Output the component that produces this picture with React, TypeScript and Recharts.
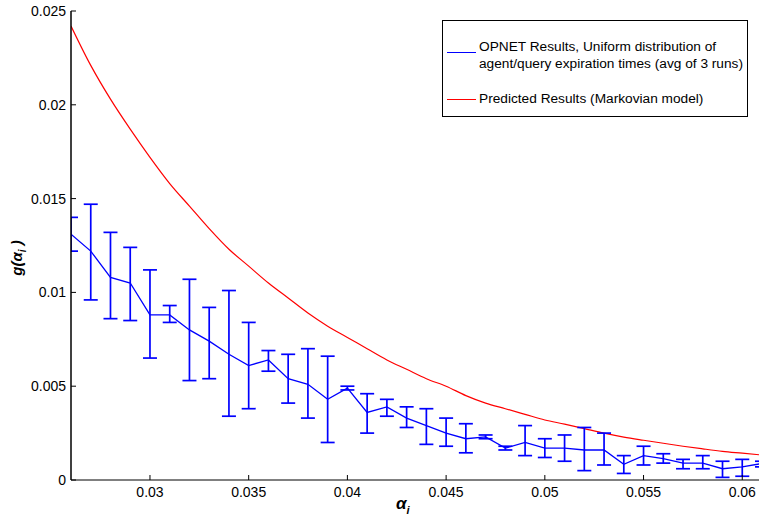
import React from "react";
import { LineChart, Line, XAxis, YAxis, ErrorBar } from "recharts";

const alpha = [
  0.026, 0.027, 0.028, 0.029, 0.03, 0.031, 0.032, 0.033, 0.034, 0.035, 0.036, 0.037,
  0.038, 0.039, 0.04, 0.041, 0.042, 0.043, 0.044, 0.045, 0.046, 0.047, 0.048, 0.049,
  0.05, 0.051, 0.052, 0.053, 0.054, 0.055, 0.056, 0.057, 0.058, 0.059, 0.06, 0.061,
];

const opnetMean = [
  0.0131, 0.0122, 0.0108, 0.0105, 0.0088, 0.0088, 0.008, 0.0074, 0.0067, 0.0061, 0.0064, 0.0054,
  0.0051, 0.0043, 0.0049, 0.0036, 0.0039, 0.0033, 0.0029, 0.0025, 0.0022, 0.0023, 0.0017, 0.002,
  0.0017, 0.0017, 0.0016, 0.0016, 0.00084, 0.0013, 0.00114, 0.0009, 0.0009, 0.0006, 0.0007, 0.00088,
];

const opnetLow = [
  0.0122, 0.0096, 0.0086, 0.0085, 0.0065, 0.0084, 0.0053, 0.0054, 0.0034, 0.0038, 0.0058, 0.0041,
  0.0033, 0.002, 0.0048, 0.0025, 0.0034, 0.0028, 0.0019, 0.0018, 0.00145, 0.0022, 0.0016, 0.0013,
  0.0012, 0.001, 0.0005, 0.0008, 0.00035, 0.0008, 0.0009, 0.0006, 0.0006, 0.00014, 0.0002, 0.0007,
];

const opnetHigh = [
  0.014, 0.0147, 0.0132, 0.0124, 0.0112, 0.0093, 0.0107, 0.0092, 0.0101, 0.0084, 0.0069, 0.0067,
  0.007, 0.0066, 0.005, 0.0046, 0.0043, 0.0039, 0.0038, 0.0033, 0.003, 0.0024, 0.0018, 0.0029,
  0.0022, 0.0024, 0.0028, 0.0025, 0.0013, 0.0018, 0.0014, 0.0011, 0.0013, 0.001, 0.0011, 0.001,
];

const predicted = [
  0.0242, 0.0221, 0.0203, 0.0187, 0.0172, 0.0158, 0.0146, 0.0134, 0.0123, 0.0114, 0.0105, 0.0097,
  0.0089, 0.0082, 0.0076, 0.007, 0.0064, 0.0059, 0.0054, 0.005, 0.0045, 0.0041, 0.0038, 0.0035,
  0.0032, 0.00298, 0.00274, 0.0025, 0.00229, 0.00212, 0.00196, 0.0018, 0.00166, 0.00153, 0.00143, 0.00133,
];

const xTicks = [0.03, 0.035, 0.04, 0.045, 0.05, 0.055, 0.06];
const xTickLabels = ["0.03", "0.035", "0.04", "0.045", "0.05", "0.055", "0.06"];
const yTicks = [0, 0.005, 0.01, 0.015, 0.02, 0.025];
const yTickLabels = ["0", "0.005", "0.01", "0.015", "0.02", "0.025"];

const data = alpha.map((a, i) => ({
  alpha: a,
  opnet: opnetMean[i],
  err: [opnetMean[i] - opnetLow[i], opnetHigh[i] - opnetMean[i]],
  predicted: predicted[i],
}));

const font = "'Liberation Sans', Arial, Helvetica, sans-serif";
const TICK_LEN = 5;
const GAP = 7;

// MATLAB style: tick marks point into the plot box
function bottomTick(props: any) {
  const { x, y, payload } = props;
  const axisY = y - GAP;
  const i = xTicks.indexOf(payload.value);
  return (
    <g>
      <line x1={x} x2={x} y1={axisY} y2={axisY - TICK_LEN} stroke="#000" />
      <text x={x} y={y} dy="0.71em" textAnchor="middle" fontSize={14} fontFamily={font} fill="#000">
        {i >= 0 ? xTickLabels[i] : payload.value}
      </text>
    </g>
  );
}

function topTick(props: any) {
  const { x, y } = props;
  return <line x1={x} x2={x} y1={y} y2={y + TICK_LEN} stroke="#000" />;
}

function leftTick(props: any) {
  const { x, y, payload } = props;
  const axisX = x + 5;
  const i = yTicks.indexOf(payload.value);
  return (
    <g>
      <line x1={axisX} x2={axisX + TICK_LEN} y1={y} y2={y} stroke="#000" />
      <text x={x} y={y} dy="0.355em" textAnchor="end" fontSize={14} fontFamily={font} fill="#000">
        {i >= 0 ? yTickLabels[i] : payload.value}
      </text>
    </g>
  );
}

function rightTick(props: any) {
  const { x, y } = props;
  return <line x1={x} x2={x - TICK_LEN} y1={y} y2={y} stroke="#000" />;
}

function LegendBox() {
  return (
    <div
      style={{
        position: "absolute",
        left: 442,
        top: 20,
        width: 306,
        height: 97,
        boxSizing: "border-box",
        border: "1px solid #000",
        background: "#fff",
        fontFamily: font,
        fontSize: 13.7,
        color: "#000",
        lineHeight: "17.3px",
      }}
    >
      <div style={{ position: "absolute", left: 4, top: 31, width: 29, height: 1.2, background: "#0000ff" }} />
      <div style={{ position: "absolute", left: 36, top: 17, whiteSpace: "nowrap" }}>
        OPNET Results, Uniform distribution of
        <br />
        agent/query expiration times (avg of 3 runs)
      </div>
      <div style={{ position: "absolute", left: 4, top: 78, width: 29, height: 1.2, background: "#ff0000" }} />
      <div style={{ position: "absolute", left: 36, top: 69, whiteSpace: "nowrap" }}>
        Predicted Results (Markovian model)
      </div>
    </div>
  );
}

export default function App() {
  return (
    <div style={{ position: "absolute", left: 0, top: 0, width: 759, height: 524, overflow: "hidden", background: "#fff" }}>
      {/* error bars are not clipped by recharts, cut them at the left axis */}
      <style>{`.recharts-errorBars { clip-path: inset(0px 0px 0px 71px) view-box; }`}</style>
      <LineChart width={780} height={524} data={data} margin={{ top: 11, right: 18, bottom: 0, left: 0 }}>
        <XAxis
          xAxisId="b"
          dataKey="alpha"
          type="number"
          domain={[0.026, 0.061]}
          allowDataOverflow
          ticks={xTicks}
          height={44}
          tickSize={0}
          tickMargin={GAP}
          tickLine={false}
          axisLine={{ stroke: "#000", strokeWidth: 1 }}
          tick={bottomTick}
          interval={0}
          label={{
            content: () => (
              <text x={396} y={509} fontFamily={font} fontWeight="bold" fontStyle="italic" fontSize={17} fill="#000">
                α<tspan dy={5} fontSize={11}>i</tspan>
              </text>
            ),
          }}
        />
        <XAxis
          xAxisId="t"
          orientation="top"
          dataKey="alpha"
          type="number"
          domain={[0.026, 0.061]}
          allowDataOverflow
          ticks={xTicks}
          height={0}
          tickSize={0}
          tickMargin={0}
          tickLine={false}
          axisLine={{ stroke: "#000", strokeWidth: 1 }}
          tick={topTick}
          interval={0}
        />
        <YAxis
          yAxisId="l"
          domain={[0, 0.025]}
          ticks={yTicks}
          width={71}
          tickSize={0}
          tickMargin={5}
          tickLine={false}
          axisLine={{ stroke: "#000", strokeWidth: 1.5 }}
          tick={leftTick}
          interval={0}
          label={{
            content: () => (
              <text
                x={0}
                y={0}
                transform="translate(22 258) rotate(-90)"
                textAnchor="middle"
                fontFamily={font}
                fontWeight="bold"
                fontStyle="italic"
                fontSize={15}
                fill="#000"
              >
                g(α<tspan dy={4} fontSize={10}>i</tspan>
                <tspan dy={-4}> )</tspan>
              </text>
            ),
          }}
        />
        <YAxis
          yAxisId="r"
          orientation="right"
          domain={[0, 0.025]}
          ticks={yTicks}
          width={0}
          tickSize={0}
          tickMargin={0}
          tickLine={false}
          axisLine={{ stroke: "#000", strokeWidth: 1 }}
          tick={rightTick}
          interval={0}
        />
        <Line
          xAxisId="b"
          yAxisId="l"
          type="monotone"
          dataKey="predicted"
          stroke="#ff0000"
          strokeWidth={1.2}
          dot={false}
          isAnimationActive={false}
        />
        <Line
          xAxisId="b"
          yAxisId="l"
          type="linear"
          dataKey="opnet"
          stroke="#0000ff"
          strokeWidth={1.3}
          dot={false}
          isAnimationActive={false}
        >
          <ErrorBar dataKey="err" direction="y" width={7} stroke="#0000ff" strokeWidth={1.7} isAnimationActive={false} />
        </Line>
      </LineChart>
      <LegendBox />
    </div>
  );
}
